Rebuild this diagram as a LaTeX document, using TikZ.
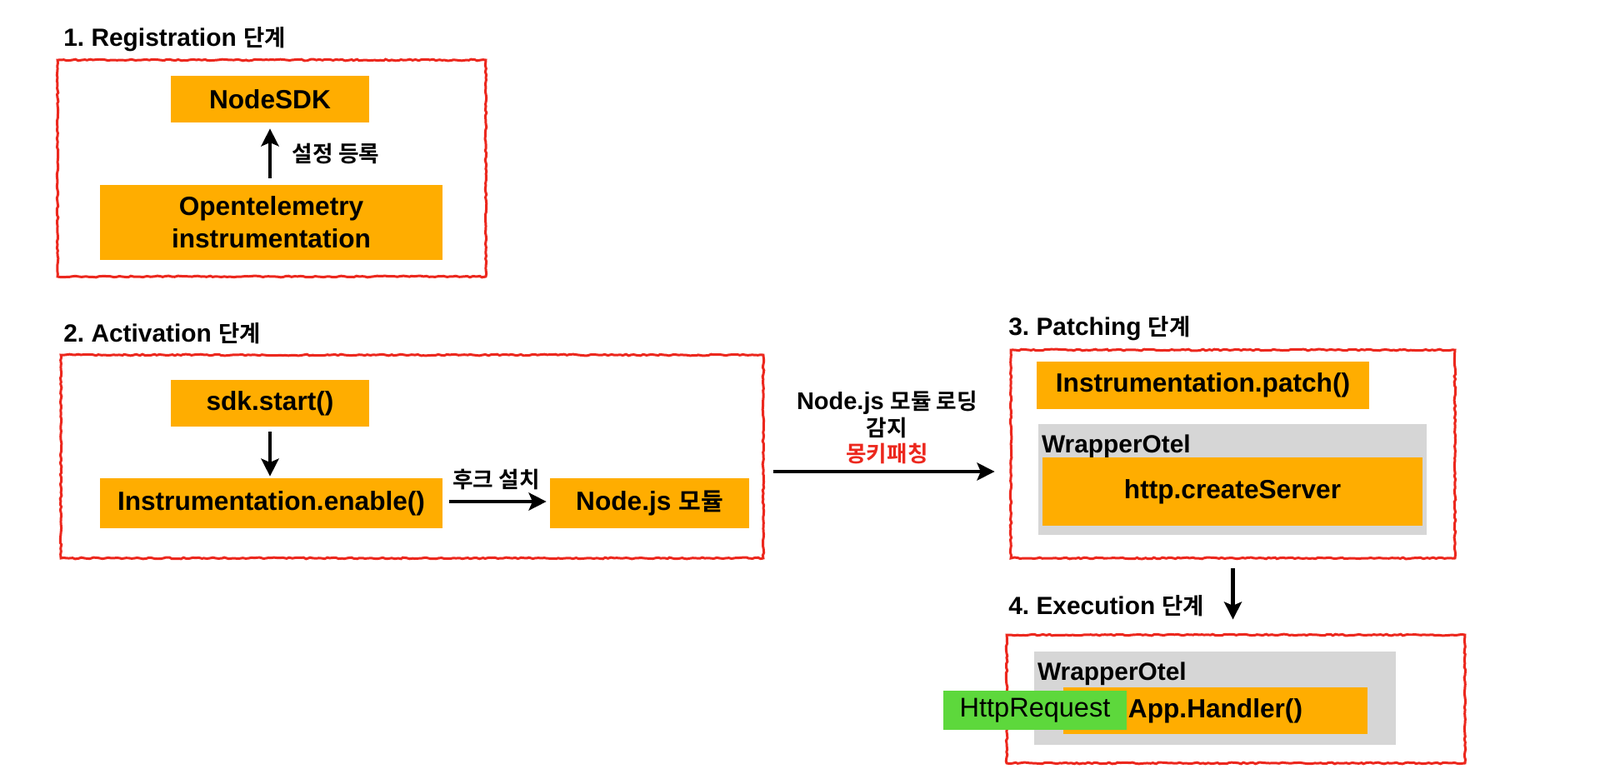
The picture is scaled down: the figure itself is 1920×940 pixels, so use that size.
\documentclass[tikz,border=0pt]{standalone}
\usepackage{fontspec}
\setmainfont{Liberation Sans}
\newfontfamily\hangul{Noto Sans CJK KR}[BoldFont={Noto Sans CJK KR Bold},Scale=0.92]
\usetikzlibrary{arrows.meta,positioning,decorations.pathmorphing}
\definecolor{boxorange}{HTML}{FFAD00}
\definecolor{wrapgray}{HTML}{D6D6D6}
\definecolor{reqgreen}{HTML}{5DD83C}
\definecolor{framered}{HTML}{EC281E}
\newcommand{\kt}[1]{{\hangul #1}}
\frenchspacing
\tikzset{
  phase/.style={anchor=west, inner sep=0pt, font=\fontsize{17}{20}\selectfont\bfseries},
  stage/.style={draw=framered, line width=1.7pt, inner sep=0pt, decorate,
    decoration={random steps, segment length=2pt, amplitude=0.5pt}},
  obox/.style={fill=boxorange, inner sep=0pt, align=center, font=\fontsize{18}{22}\selectfont\bfseries},
  wrap/.style={fill=wrapgray, inner sep=0pt},
  wraplabel/.style={anchor=base west, inner sep=0pt, font=\fontsize{17}{20}\selectfont\bfseries},
  note/.style={font=\fontsize{16.5}{18}\selectfont\bfseries, align=center},
  arr/.style={-{Stealth[length=12pt,width=12pt,inset=2.5pt]}, line width=2.3pt}
}
\begin{document}
\begin{tikzpicture}[x=0.02cm, y=-0.02cm]
    \useasboundingbox (0,0) rectangle (1920,940);
    % 1. Registration
    \node[phase] (t1) at (76,47) {1. Registration \kt{단계}};
    \node[stage, minimum width=10.28cm, minimum height=5.2cm] (reg) at (326,202) {};
    \node[obox, minimum width=4.76cm, minimum height=1.12cm] (sdk) at (324,119) {NodeSDK};
    \node[obox, minimum width=8.22cm, minimum height=1.8cm] (otel) at (325.5,267) {Opentelemetry\\instrumentation};
    \draw[arr, shorten <=0.16cm, shorten >=0.14cm] (sdk.south |- otel.north) -- (sdk.south)
        node[midway, right=0.38cm, note] {\kt{설정 등록}};
    % 2. Activation
    \node[phase] (t2) at (76,400) {2. Activation \kt{단계}};
    \node[stage, minimum width=16.86cm, minimum height=4.88cm] (act) at (494.5,548) {};
    \node[obox, minimum width=4.76cm, minimum height=1.12cm] (start) at (324,484) {sdk.start()};
    \node[obox, minimum width=8.22cm, minimum height=1.2cm] (enable) at (325.5,604) {Instrumentation.enable()};
    \node[obox, minimum width=4.78cm, minimum height=1.2cm] (nodejs) at (779.5,604) {Node.js \kt{모듈}};
    \draw[arr, shorten <=0.12cm, shorten >=0.04cm] (start.south) -- (start.south |- enable.north);
    \draw[arr, shorten <=0.16cm, shorten >=0.08cm] ([yshift=0.04cm]enable.east) -- ([yshift=0.04cm]nodejs.west)
        node[midway, above=0.12cm, note] {\kt{후크 설치}};
    % 3. Patching
    \node[phase] (t3) at (1210,394) {3. Patching \kt{단계}};
    \node[stage, minimum width=10.66cm, minimum height=5cm] (pat) at (1479.5,545) {};
    \node[obox, minimum width=7.98cm, minimum height=1.14cm] (patch) at (1443.5,462.5) {Instrumentation.patch()};
    \node[wrap, minimum width=9.32cm, minimum height=2.66cm] (wrap1) at (1479,575.5) {};
    \node[wraplabel] at ([xshift=0.08cm, yshift=-0.7cm]wrap1.north west) {WrapperOtel};
    \node[obox, minimum width=9.12cm, minimum height=1.64cm] (server) at (1479,590) {http.createServer};
    \draw[arr, shorten <=0.22cm, shorten >=0.36cm] ([yshift=-0.36cm]act.east) -- ([yshift=-0.36cm]act.east -| pat.west)
        node[midway, above=0.02cm, note] {Node.js \kt{모듈 로딩}\\\kt{감지}\\{\color{framered}\kt{몽키패칭}}};
    % 4. Execution
    \node[phase] (t4) at (1210,727) {4. Execution \kt{단계}};
    \node[stage, minimum width=11cm, minimum height=3.08cm] (exe) at (1483,839) {};
    \node[wrap, minimum width=8.68cm, minimum height=2.24cm] (wrap2) at (1458,838) {};
    \node[wraplabel] at ([xshift=0.08cm, yshift=-0.7cm]wrap2.north west) {WrapperOtel};
    \node[obox, minimum width=7.3cm, minimum height=1.12cm] (handler) at (1458.5,853) {App.Handler()};
    \node[fill=reqgreen, minimum width=4.4cm, minimum height=0.94cm, inner sep=0pt,
        font=\fontsize{18.5}{22}\selectfont] (req) at (1242,852.5) {HttpRequest};
    \draw[arr, shorten <=0.22cm, shorten >=0.34cm] (pat.south) -- (pat.south |- exe.north);
\end{tikzpicture}
\end{document}
